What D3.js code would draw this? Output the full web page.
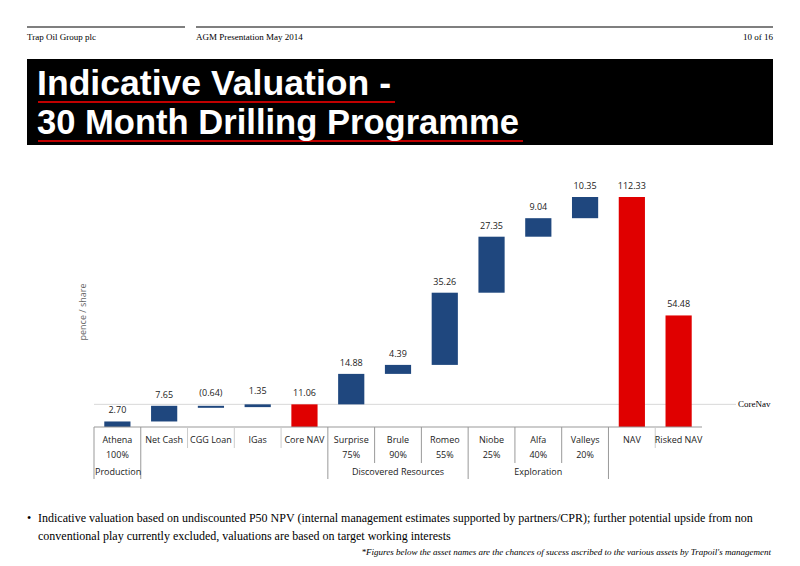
<!DOCTYPE html>
<html><head><meta charset="utf-8">
<script src="https://cdn.jsdelivr.net/npm/d3@7"></script>
<style>body{margin:0;background:#fff}</style>
</head><body>
<svg id="c" width="800" height="566"></svg>
<script>
// data
const assets = ['Athena','Net Cash','CGG Loan','IGas','Core NAV','Surprise','Brule','Romeo','Niobe','Alfa','Valleys','NAV','Risked NAV']
const values = [2.70, 7.65, -0.64, 1.35, 11.06, 14.88, 4.39, 35.26, 27.35, 9.04, 10.35, 112.33, 54.48]
const labels = ['2.70','7.65','(0.64)','1.35','11.06','14.88','4.39','35.26','27.35','9.04','10.35','112.33','54.48']
const totals = ['Core NAV','NAV','Risked NAV']
const chances = ['100%','','','','','75%','90%','55%','25%','40%','20%','','']
const groups = [
  {name:'Production', from:0, to:0, align:'start'},
  {name:'Discovered Resources', from:5, to:7},
  {name:'Exploration', from:8, to:10}
]
const coreNav = 11.06

const svg = d3.select('#c')
const serif = 'Liberation Serif, serif'
const sans = 'Open Sans, Noto Sans, sans-serif'

// header
svg.append('line').attr('x1',27).attr('x2',185).attr('y1',27).attr('y2',27).attr('stroke','#555').attr('stroke-width',1.5)
svg.append('line').attr('x1',196).attr('x2',773).attr('y1',27).attr('y2',27).attr('stroke','#555').attr('stroke-width',1.5)
svg.append('text').attr('x',27).attr('y',40).attr('font-family',serif).attr('font-size',9).text('Trap Oil Group plc')
svg.append('text').attr('x',196).attr('y',40).attr('font-family',serif).attr('font-size',9).text('AGM Presentation May 2014')
svg.append('text').attr('x',773).attr('y',40).attr('text-anchor','end').attr('font-family',serif).attr('font-size',9).text('10 of 16')

// title block
svg.append('rect').attr('x',27).attr('y',59).attr('width',746).attr('height',86).attr('fill','#000')
svg.append('line').attr('x1',38).attr('x2',395).attr('y1',102).attr('y2',102).attr('stroke','#c00000').attr('stroke-width',2)
svg.append('line').attr('x1',38).attr('x2',523).attr('y1',141).attr('y2',141).attr('stroke','#c00000').attr('stroke-width',2)
const tfont = 'Liberation Sans Narrow, Liberation Sans, Arial, sans-serif'
svg.append('text').attr('x',37).attr('y',95).attr('fill','#fff').attr('font-family',tfont).attr('font-weight','bold').attr('font-size',35)
  .attr('textLength',354).attr('lengthAdjust','spacingAndGlyphs').text('Indicative Valuation -')
svg.append('text').attr('x',37).attr('y',134).attr('fill','#fff').attr('font-family',tfont).attr('font-weight','bold').attr('font-size',35)
  .attr('textLength',482).attr('lengthAdjust','spacingAndGlyphs').text('30 Month Drilling Programme')

// waterfall
const x = d3.scaleBand().domain(assets).range([94,702]).paddingInner(0.44).paddingOuter(0.22)
const y = d3.scaleLinear().domain([0,112.33]).range([427,197])
let run = 0
const bars = assets.map((a,i) => {
  let lo, hi
  if (totals.includes(a)) { lo = 0; hi = values[i]; run = values[i] }
  else { const s = run; run += values[i]; lo = Math.min(s,run); hi = Math.max(s,run) }
  return {a, lo, hi, lab: labels[i], total: totals.includes(a)}
})

svg.append('line').attr('x1',94).attr('x2',736).attr('y1',y(coreNav)).attr('y2',y(coreNav)).attr('stroke','#d9d9d9')
svg.append('text').attr('x',738).attr('y',y(coreNav)+3).attr('font-family',serif).attr('font-size',9).text('CoreNav')

svg.selectAll('rect.bar').data(bars).join('rect').attr('class','bar')
  .attr('x',d=>x(d.a)).attr('width',x.bandwidth())
  .attr('y',d=>y(d.hi)).attr('height',d=>Math.max(2,y(d.lo)-y(d.hi)))
  .attr('fill',d=>d.total?'#e00000':'#1f477e')
svg.selectAll('text.val').data(bars).join('text').attr('class','val')
  .attr('x',d=>x(d.a)+x.bandwidth()/2).attr('y',d=>y(d.hi)-(d.hi-d.lo<2?10:8))
  .attr('text-anchor','middle').attr('font-family',sans).attr('font-size',9).attr('fill','#222').text(d=>d.lab)

svg.append('text').attr('transform','translate(86,312) rotate(-90)').attr('text-anchor','middle')
  .attr('font-family',sans).attr('font-size',9).attr('fill','#666').text('pence / share')

// table
const step = x.step()
const colL = i => x(assets[i]) - (step - x.bandwidth())/2
svg.append('line').attr('x1',94).attr('x2',702).attr('y1',427).attr('y2',427).attr('stroke','#999')
svg.append('line').attr('x1',94).attr('x2',94).attr('y1',427).attr('y2',479).attr('stroke','#999')
;[1,5,8,11].forEach(i=>svg.append('line').attr('x1',colL(i)).attr('x2',colL(i)).attr('y1',427).attr('y2',479).attr('stroke','#999'))
;[6,7,9,10].forEach(i=>svg.append('line').attr('x1',colL(i)).attr('x2',colL(i)).attr('y1',427).attr('y2',463).attr('stroke','#999'))
;[2,3,4,12].forEach(i=>svg.append('line').attr('x1',colL(i)).attr('x2',colL(i)).attr('y1',427).attr('y2',448).attr('stroke','#ccc'))
svg.selectAll('text.name').data(assets).join('text').attr('class','name')
  .attr('x',d=>x(d)+x.bandwidth()/2).attr('y',443).attr('text-anchor','middle')
  .attr('font-family',sans).attr('font-size',9).attr('fill','#222').text(d=>d)
svg.selectAll('text.pct').data(chances).join('text').attr('class','pct')
  .attr('x',(d,i)=>x(assets[i])+x.bandwidth()/2).attr('y',458).attr('text-anchor','middle')
  .attr('font-family',sans).attr('font-size',9).attr('fill','#222').text(d=>d)
groups.forEach(g=>{
  const cx = g.align==='start' ? 95 : (colL(g.from)+colL(g.to)+step)/2
  svg.append('text').attr('x',cx).attr('y',475).attr('text-anchor',g.align||'middle')
    .attr('font-family',sans).attr('font-size',9).attr('fill','#222').text(g.name)
})

// footer
svg.append('text').attr('x',27).attr('y',522).attr('font-family',serif).attr('font-size',12).text('•')
svg.append('text').attr('x',38).attr('y',522).attr('font-family',serif).attr('font-size',12)
  .text('Indicative valuation based on undiscounted P50 NPV (internal management estimates supported by partners/CPR); further potential upside from non')
svg.append('text').attr('x',38).attr('y',540).attr('font-family',serif).attr('font-size',12)
  .text('conventional play currently excluded, valuations are based on target working interests')
svg.append('text').attr('x',771).attr('y',555).attr('text-anchor','end').attr('font-family',serif).attr('font-style','italic').attr('font-size',9)
  .text("*Figures below the asset names are the chances of sucess ascribed to the various assets by Trapoil's management")
</script>
</body></html>
